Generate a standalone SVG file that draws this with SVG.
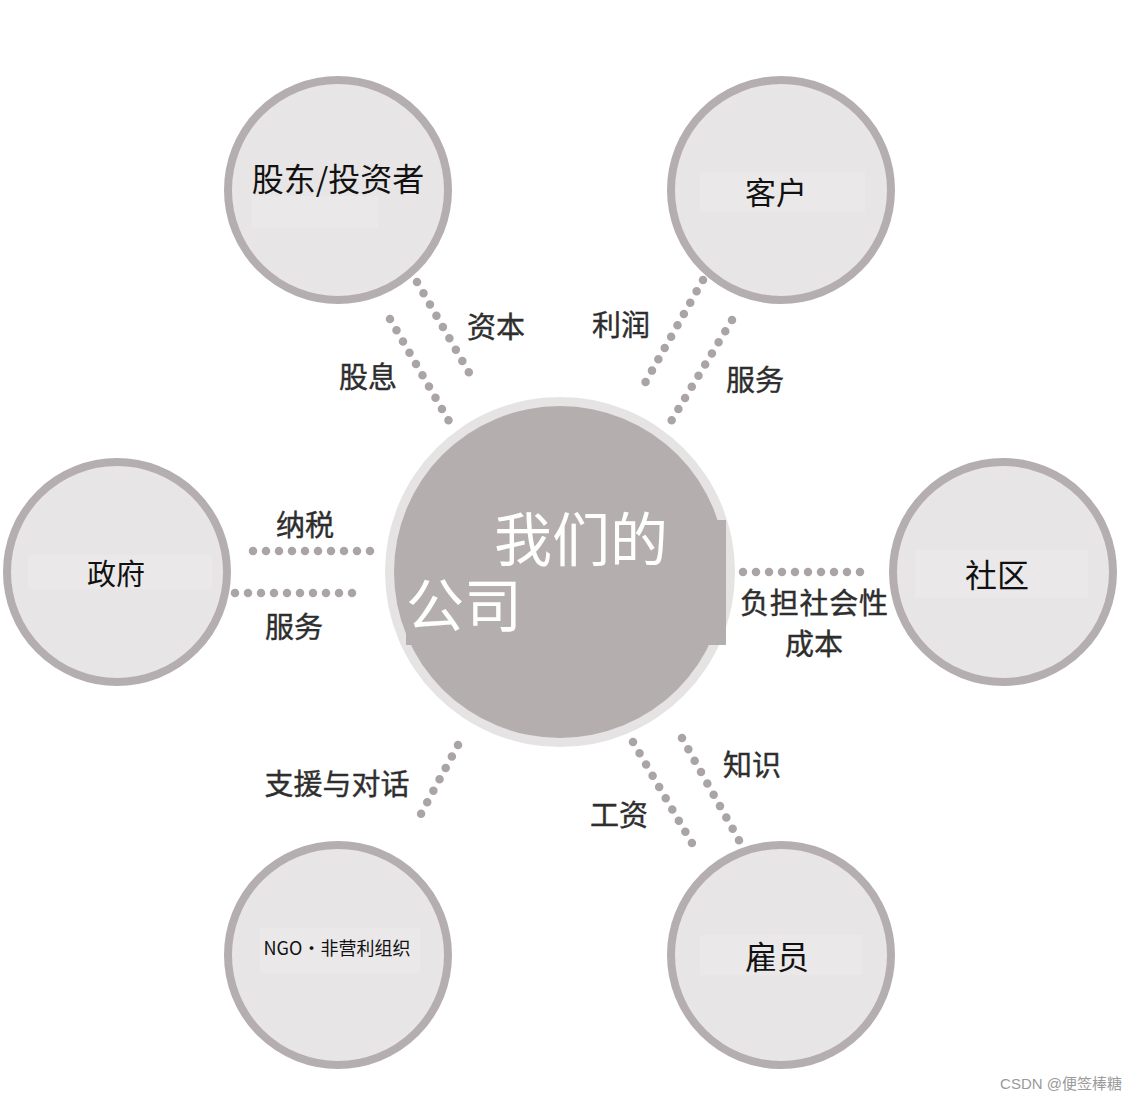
<svg xmlns="http://www.w3.org/2000/svg" width="1138" height="1100" viewBox="0 0 1138 1100">
<defs>
<style>
.sat{fill:#e7e5e6;stroke:#b5aeb0;stroke-width:8}
.band{fill:#eae8e9}
.dots{fill:none;stroke:#aaa4a5;stroke-width:8.5;stroke-linecap:round;stroke-dasharray:0 13}
.nl{font-family:"Noto Sans CJK SC","Noto Sans",sans-serif;fill:#111;text-anchor:middle;dominant-baseline:central}
.el{font-family:"Noto Sans CJK SC","Noto Sans",sans-serif;font-size:29px;fill:#2e2e2e;text-anchor:middle;dominant-baseline:central;stroke:#2e2e2e;stroke-width:0.4}
.ct{font-family:"Noto Sans CJK SC","Noto Sans",sans-serif;font-size:58px;fill:#ffffff;dominant-baseline:central}
</style>
</defs>
<rect width="1138" height="1100" fill="#ffffff"/>
<g id="connectors">
<line class="dots" x1="390" y1="319" x2="450" y2="423"/>
<line class="dots" x1="417" y1="282" x2="475" y2="383"/>
<line class="dots" x1="703" y1="280" x2="645" y2="383"/>
<line class="dots" x1="732" y1="320" x2="670" y2="423"/>
<line class="dots" x1="253" y1="551" x2="376" y2="551"/>
<line class="dots" x1="235" y1="593" x2="354" y2="593"/>
<line class="dots" x1="743" y1="572" x2="864" y2="572"/>
<line class="dots" x1="458" y1="745" x2="415" y2="825"/>
<line class="dots" x1="633" y1="742" x2="693" y2="845"/>
<line class="dots" x1="682" y1="738" x2="740" y2="842"/>
</g>
<g id="edge-labels">
<text class="el" x="496" y="325">资本</text>
<text class="el" x="368" y="375">股息</text>
<text class="el" x="621" y="323">利润</text>
<text class="el" x="755" y="378">服务</text>
<text class="el" x="305" y="523">纳税</text>
<text class="el" x="294" y="625">服务</text>
<text class="el" x="814" y="601" font-size="27" textLength="148">负担社会性</text>
<text class="el" x="814" y="642" font-size="27">成本</text>
<text class="el" x="337" y="782">支援与对话</text>
<text class="el" x="619" y="813">工资</text>
<text class="el" x="752" y="763">知识</text>
</g>
<g id="center">
<circle cx="560" cy="572" r="175" fill="#e6e3e4"/>
<circle cx="560" cy="572" r="166" fill="#b5aeaf"/>
<rect x="406" y="520" width="320" height="125" fill="#b5aeaf"/>
<text class="ct" x="494" y="536">我们的</text>
<text class="ct" x="406" y="602">公司</text>
</g>
<g id="node-shareholders">
<circle class="sat" cx="338" cy="190" r="110"/>
<rect class="band" x="252" y="196" width="126" height="32"/>
<text class="nl" x="338" y="177" font-size="32">股东/投资者</text>
</g>
<g id="node-customers">
<circle class="sat" cx="781" cy="190" r="110"/>
<rect class="band" x="700" y="172" width="165" height="40"/>
<text class="nl" x="776" y="190" font-size="31">客户</text>
</g>
<g id="node-government">
<circle class="sat" cx="117" cy="572" r="110"/>
<rect class="band" x="28" y="555" width="184" height="34"/>
<text class="nl" x="116" y="572" font-size="29">政府</text>
</g>
<g id="node-community">
<circle class="sat" cx="1003" cy="572" r="110"/>
<rect class="band" x="915" y="550" width="173" height="48"/>
<text class="nl" x="997" y="573" font-size="32">社区</text>
</g>
<g id="node-ngo">
<circle class="sat" cx="338" cy="955" r="110"/>
<rect class="band" x="260" y="928" width="160" height="45"/>
<text class="nl" x="337" y="947" font-size="18">NGO・非营利组织</text>
</g>
<g id="node-employees">
<circle class="sat" cx="781" cy="955" r="110"/>
<rect class="band" x="700" y="935" width="162" height="40"/>
<text class="nl" x="777" y="955" font-size="32">雇员</text>
</g>
<text x="1122" y="1083" font-family="'Liberation Sans','Noto Sans CJK SC',sans-serif" font-size="15" fill="#9a9a9a" text-anchor="end" dominant-baseline="central">CSDN @便签棒糖</text>
</svg>
